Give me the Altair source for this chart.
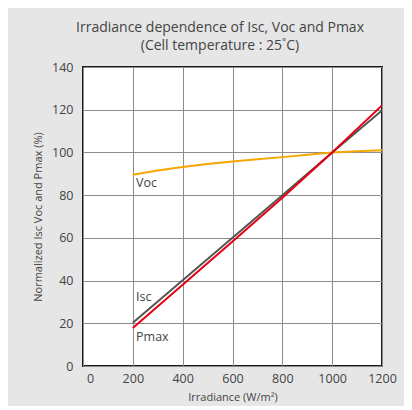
import altair as alt
import pandas as pd

# Data
irr = [200, 400, 600, 800, 1000, 1200]
isc = [20.3, 40.2, 60.1, 80.0, 100.0, 119.6]
pmax = [17.8, 38.0, 58.3, 78.8, 100.0, 122.0]

voc_irr = [200, 300, 400, 500, 600, 700, 800, 900, 1000, 1100, 1200]
voc = [89.5, 91.5, 93.2, 94.6, 95.8, 96.8, 97.8, 98.9, 100.0, 100.5, 101.0]

x_ticks = [0, 200, 400, 600, 800, 1000, 1200]
y_ticks = [0, 20, 40, 60, 80, 100, 120, 140]

label_names = ["Voc", "Isc", "Pmax"]
label_x = [213, 213, 213]
label_y = [85.7, 32.3, 13.6]

title_lines = ["Irradiance dependence of Isc, Voc and Pmax", "(Cell temperature : 25\u02daC)"]

rows = []
for x, v in zip(irr, isc):
    rows.append({"irr": x, "val": v, "series": "Isc"})
for x, v in zip(irr, pmax):
    rows.append({"irr": x, "val": v, "series": "Pmax"})
for x, v in zip(voc_irr, voc):
    rows.append({"irr": x, "val": v, "series": "Voc"})
df = pd.DataFrame(rows)

labels_df = pd.DataFrame({"name": label_names, "x": label_x, "y": label_y})

FONT = "Open Sans"
TXT = "#444444"

x_scale = alt.Scale(domain=[0, 1200], nice=False, zero=False)
y_scale = alt.Scale(domain=[0, 140], nice=False)

x_axis = alt.Axis(values=x_ticks, format="d", grid=True, gridColor="#8c8c8c", gridWidth=1,
                  tickSize=0, domain=False, labelPadding=6, labelFontSize=12.5,
                  labelFlush=False,
                  labelOffset=alt.condition("datum.value == 0", alt.value(7), alt.value(0)),
                  labelColor=TXT, labelFont=FONT, title="Irradiance (W/m\u00b2)",
                  titleFont=FONT, titleFontSize=11, titleFontWeight="normal",
                  titleColor=TXT, titlePadding=7)
y_axis = alt.Axis(values=y_ticks, format="d", grid=True, gridColor="#8c8c8c", gridWidth=1,
                  tickSize=0, domain=False, labelPadding=10, labelFontSize=12.5,
                  labelColor=TXT, labelFont=FONT, title=None)

base = alt.Chart(df)

def line(series, color):
    return base.transform_filter(alt.datum.series == series).mark_line(
        strokeWidth=2, color=color, clip=True
    ).encode(
        x=alt.X("irr:Q", scale=x_scale, axis=x_axis),
        y=alt.Y("val:Q", scale=y_scale, axis=y_axis),
    )

voc_line = line("Voc", "#f5a700")
isc_line = line("Isc", "#555555")
pmax_line = line("Pmax", "#e60012")

series_labels = alt.Chart(labels_df).mark_text(
    align="left", baseline="middle", fontSize=12.5, font=FONT, color=TXT
).encode(
    x=alt.X("x:Q", scale=x_scale),
    y=alt.Y("y:Q", scale=y_scale),
    text="name:N",
)

title_df = pd.DataFrame({"t": title_lines, "py": [-35, -17]})
title = alt.Chart(title_df).mark_text(
    align="center", baseline="alphabetic", fontSize=14, font=FONT, color=TXT
).encode(
    x=alt.value(137),
    y=alt.Y("py:Q", scale=None),
    text="t:N",
)

ytitle = alt.Chart(pd.DataFrame({"t": ["Normalized Isc Voc and Pmax (%)"]})).mark_text(
    align="center", baseline="middle", fontSize=11, font=FONT, color=TXT, angle=270
).encode(
    x=alt.value(-44),
    y=alt.value(150),
    text="t:N",
)

chart = alt.layer(voc_line, isc_line, pmax_line, series_labels, title, ytitle).properties(
    width=299,
    height=299,
    padding={"left": 75, "top": 59, "right": 22, "bottom": 40},
    autosize=alt.AutoSizeParams(type="none"),
    background="#e6e6e6",
).configure_view(stroke="#231815", strokeWidth=2, fill="white")

chart.save("out.html", embed_options={"renderer": "svg", "actions": False})
